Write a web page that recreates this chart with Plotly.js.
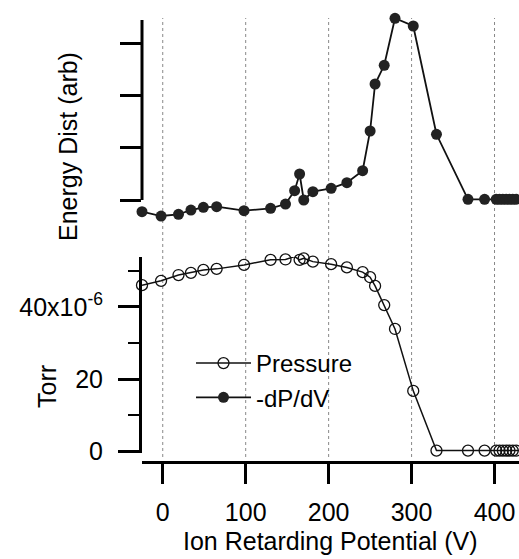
<!DOCTYPE html>
<html>
<head>
<meta charset="utf-8">
<script src="https://cdn.plot.ly/plotly-3.0.1.min.js"></script>
<style>
html,body{margin:0;padding:0;background:#fff;}
#chart{width:519px;height:559px;}
</style>
</head>
<body>
<div id="chart"></div>
<script>
// Ion retarding potential (V), shared by both series
const potential = [-25, -2, 19, 34, 49, 65, 98, 130, 148, 159, 165, 170, 181, 203, 222, 241,
  250, 256, 267, 280, 302, 330, 368, 388, 402, 406, 410, 414, 418, 422, 426, 430];

// Pressure (Torr)
const pressure = [46.0e-6, 47.2e-6, 48.8e-6, 49.4e-6, 50.2e-6, 50.5e-6, 51.6e-6, 53.0e-6,
  53.1e-6, 53.9e-6, 53.0e-6, 53.4e-6, 52.5e-6, 51.8e-6, 50.9e-6, 49.6e-6,
  48.2e-6, 45.8e-6, 40.5e-6, 33.9e-6, 16.8e-6, 0.3e-6, 0.3e-6, 0.3e-6,
  0.3e-6, 0.3e-6, 0.3e-6, 0.3e-6, 0.3e-6, 0.3e-6, 0.3e-6, 0.3e-6];

// -dP/dV energy distribution (arbitrary units)
const energyDist = [-0.224, -0.307, -0.274, -0.192, -0.140, -0.128, -0.205, -0.159,
  -0.077, 0.178, 0.498, 0.0, 0.159, 0.224, 0.331, 0.561,
  1.322, 2.222, 2.580, 3.481, 3.333, 1.259, 0.013, 0.013,
  0.013, 0.013, 0.013, 0.013, 0.013, 0.013, 0.013, 0.013];

// Tick definitions
const xTickVals = [0, 100, 200, 300, 400];
const torrTickVals = [0, 20e-6, 40e-6];
const torrTickText = ['0', '20', '40x10<sup>-6</sup>'];
const torrMinorVals = [10e-6, 30e-6, 50e-6];
const energyTickVals = [0, 1, 2, 3];

const FONT = 'Liberation Sans, Arial, Helvetica, sans-serif';
const FS = 25;
const H = 559;
const py = (px) => 1 - px / H;

const traces = [
  {
    x: potential, y: pressure, xaxis: 'x', yaxis: 'y',
    name: 'Pressure', legendgroup: 'a',
    mode: 'lines+markers', cliponaxis: false,
    line: {color: '#111', width: 1.5},
    marker: {symbol: 'circle-open', size: 11, color: '#111', line: {width: 1.3}}
  },
  {
    x: potential, y: energyDist, xaxis: 'x', yaxis: 'y2',
    name: '-dP/dV', legendgroup: 'a',
    mode: 'lines+markers', cliponaxis: false,
    line: {color: '#111', width: 1.8},
    marker: {symbol: 'circle', size: 11, color: '#222'}
  }
];

const gridShapes = xTickVals.map(v => ({
  type: 'line', xref: 'x', yref: 'paper', x0: v, x1: v, y0: py(457), y1: py(18),
  line: {color: '#888', width: 1, dash: 'dot'}, layer: 'below'
}));

const layout = {
  width: 519, height: 559,
  margin: {l: 142, r: 0, t: 0, b: 0},
  paper_bgcolor: '#fff', plot_bgcolor: '#fff',
  font: {family: FONT, size: FS, color: '#000'},
  showlegend: true,
  legend: {
    x: 0.13, y: py(341), xanchor: 'left', yanchor: 'top',
    bgcolor: 'rgba(0,0,0,0)', font: {family: FONT, size: 24, color: '#000'},
    tracegroupgap: 0, itemwidth: 55
  },
  xaxis: {
    range: [-25, 429.5], anchor: 'free', position: py(462),
    showline: true, linewidth: 3, linecolor: '#000',
    ticks: 'outside', ticklen: 20, tickwidth: 3, tickcolor: '#000',
    tickmode: 'array', tickvals: xTickVals,
    tickfont: {family: FONT, size: FS, color: '#000'},
    ticklabelstandoff: 7,
    showgrid: false, zeroline: false
  },
  yaxis: {
    domain: [py(453), py(257)], range: [-0.36e-6, 53.78e-6], anchor: 'x',
    showline: true, linewidth: 3, linecolor: '#000',
    ticks: 'outside', ticklen: 21, tickwidth: 3, tickcolor: '#000',
    tickmode: 'array', tickvals: torrTickVals, ticktext: torrTickText,
    minor: {tickmode: 'array', tickvals: torrMinorVals, ticks: 'outside', ticklen: 11, tickwidth: 2, tickcolor: '#000', showgrid: false},
    tickfont: {family: FONT, size: FS, color: '#000'},
    ticklabelstandoff: 10,
    showgrid: false, zeroline: false
  },
  yaxis2: {
    domain: [py(222), py(14)], range: [-0.4215, 3.563], anchor: 'x',
    showline: false,
    ticks: 'outside', ticklen: 21, tickwidth: 3, tickcolor: '#000',
    tickmode: 'array', tickvals: energyTickVals, showticklabels: false,
    showgrid: false, zeroline: false
  },
  shapes: gridShapes.concat([
    {type: 'line', xref: 'paper', yref: 'y2', x0: 0, x1: 0, y0: 0, y1: 3.448,
     line: {color: '#000', width: 3}}
  ]),
  annotations: [
    {text: 'Energy Dist (arb)', xref: 'paper', yref: 'paper', x: (68 - 142) / 377, y: py(147),
     textangle: -90, showarrow: false, xanchor: 'center', yanchor: 'middle',
     font: {family: FONT, size: FS, color: '#000'}},
    {text: 'Torr', xref: 'paper', yref: 'paper', x: (47 - 142) / 377, y: py(387),
     textangle: -90, showarrow: false, xanchor: 'center', yanchor: 'middle',
     font: {family: FONT, size: FS, color: '#000'}},
    {text: 'Ion Retarding Potential (V)', xref: 'paper', yref: 'paper', x: 0.5, y: py(541),
     showarrow: false, xanchor: 'center', yanchor: 'middle',
     font: {family: FONT, size: FS, color: '#000'}}
  ]
};

Plotly.newPlot('chart', traces, layout, {displayModeBar: false, staticPlot: true});
</script>
</body>
</html>
